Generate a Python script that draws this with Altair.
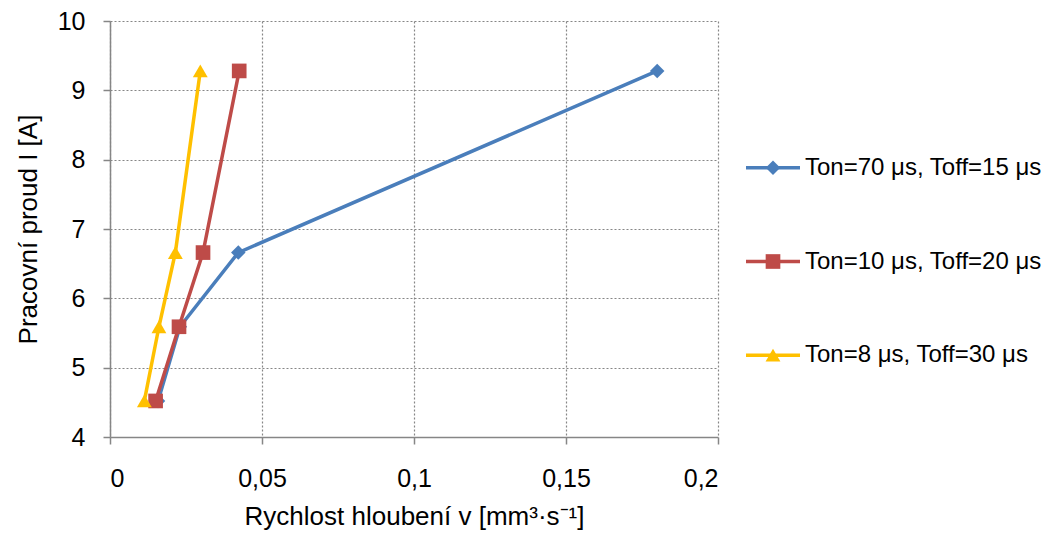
import altair as alt
import pandas as pd

series = ["Ton=70 μs, Toff=15 μs", "Ton=10 μs, Toff=20 μs", "Ton=8 μs, Toff=30 μs"]
colors = ["#4A7EBB", "#BE4B48", "#FFC000"]
shapes = ["diamond", "square", "triangle-up"]
sizes = [210, 220, 240]

current = [4.52, 5.59, 6.66, 9.28]
speed_s1 = [0.0158, 0.0230, 0.0422, 0.1800]
speed_s2 = [0.0150, 0.0227, 0.0306, 0.0425]
speed_s3 = [0.0113, 0.0161, 0.0215, 0.0297]

x_ticks = [0, 0.05, 0.1, 0.15, 0.2]
y_ticks = [4, 5, 6, 7, 8, 9, 10]

rows = []
for name, vals in zip(series, [speed_s1, speed_s2, speed_s3]):
    for i, (v, c) in enumerate(zip(vals, current)):
        rows.append({"series": name, "v": v, "I": c, "idx": i})
df = pd.DataFrame(rows)
legend_df = pd.DataFrame({"series": series})

FONT = "Liberation Sans"
color_scale = alt.Scale(domain=series, range=colors)
shape_scale = alt.Scale(domain=series, range=shapes)
size_scale = alt.Scale(domain=series, range=sizes)

x_enc = alt.X(
    "v:Q",
    scale=alt.Scale(domain=[0, 0.2], nice=False),
    axis=alt.Axis(
        values=x_ticks,
        labelExpr="replace(format(datum.value, '~g'), '.', ',')",
        title="Rychlost hloubení v [mm³·s⁻¹]",
        titlePadding=12,
        labelPadding=22,
    ),
)
y_enc = alt.Y(
    "I:Q",
    scale=alt.Scale(domain=[4, 10], nice=False),
    axis=alt.Axis(
        values=y_ticks,
        format="d",
        title="Pracovní proud I [A]",
        titlePadding=16,
        labelPadding=18,
    ),
)

lines = alt.Chart(df).mark_line(strokeWidth=3.5).encode(
    x=x_enc,
    y=y_enc,
    color=alt.Color("series:N", scale=color_scale, legend=None),
    detail="series:N",
    order="idx:Q",
)
points = alt.Chart(df).mark_point(filled=True, opacity=1).encode(
    x="v:Q",
    y="I:Q",
    color=alt.Color("series:N", scale=color_scale, legend=None),
    shape=alt.Shape("series:N", scale=shape_scale, legend=None),
    size=alt.Size("series:N", scale=size_scale, legend=None),
)
main = alt.layer(lines, points)

# point scale with default half-step outer padding: entries at 147, 240.5, 334
ly = alt.Y("series:N", scale=alt.Scale(domain=series, range=[100, 381]), axis=None)
leg_line = alt.Chart(legend_df).mark_rule(strokeWidth=3.5).encode(
    x=alt.value(636), x2=alt.value(690), y=ly,
    color=alt.Color("series:N", scale=color_scale, legend=None),
)
leg_pt = alt.Chart(legend_df).mark_point(filled=True, opacity=1).encode(
    x=alt.value(663), y=ly,
    color=alt.Color("series:N", scale=color_scale, legend=None),
    shape=alt.Shape("series:N", scale=shape_scale, legend=None),
    size=alt.Size("series:N", scale=size_scale, legend=None),
)
leg_txt = alt.Chart(legend_df).mark_text(
    align="left", baseline="middle", font=FONT, fontSize=24, color="#000000"
).encode(x=alt.value(695), y=ly, text="series:N")
legend = alt.layer(leg_line, leg_pt, leg_txt)

chart = alt.layer(main, legend).resolve_scale(y="independent").properties(
    width=608,
    height=416,
    autosize=alt.AutoSizeParams(type="none"),
    padding={"left": 102, "top": 13, "right": 328, "bottom": 95},
    background="#ffffff",
).configure_view(stroke=None).configure_axis(
    labelFont=FONT,
    titleFont=FONT,
    labelFontSize=25,
    titleFontSize=26,
    labelColor="#000000",
    titleColor="#000000",
    titleFontWeight="normal",
    domainColor="#868686",
    domainWidth=1.5,
    tickColor="#868686",
    tickWidth=1.5,
    tickSize=7,
    gridColor="#868686",
    gridDash=[2, 2],
    gridWidth=1.2,
)

chart.save("out.html", embed_options={"renderer": "svg", "actions": False})
